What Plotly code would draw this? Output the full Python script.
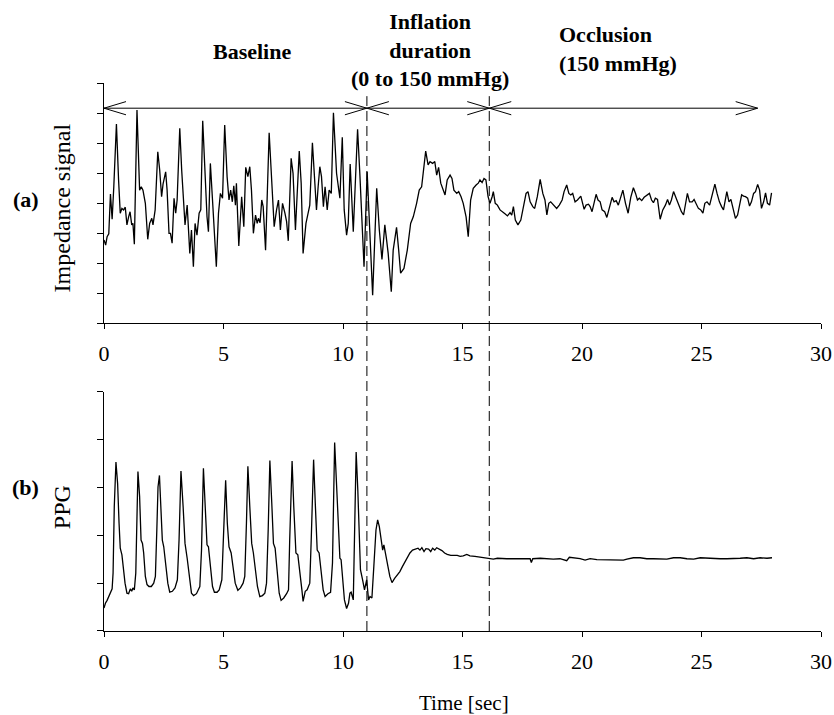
import plotly.graph_objects as go

# ---- Impedance signal (panel a): time [s] and amplitude (arbitrary units) ----
imp_t = [
    0.00, 0.07, 0.13, 0.20, 0.27, 0.34, 0.41, 0.52, 0.61, 0.68, 0.75, 0.82, 0.89, 0.96,
    1.03, 1.09, 1.16, 1.21, 1.27, 1.38, 1.49, 1.56, 1.63, 1.73, 1.83, 1.91, 2.00, 2.05,
    2.14, 2.25, 2.33, 2.41, 2.47, 2.58, 2.64, 2.72, 2.78, 2.85, 2.93, 3.00, 3.06, 3.17,
    3.25, 3.34, 3.39, 3.48, 3.59, 3.66, 3.74, 3.81, 3.89, 3.98, 4.05, 4.13, 4.23, 4.31,
    4.37, 4.45, 4.54, 4.62, 4.70, 4.79, 4.87, 4.96, 5.05, 5.15, 5.23, 5.30, 5.37, 5.43,
    5.50, 5.54, 5.64, 5.76, 5.85, 5.93, 6.02, 6.10, 6.17, 6.25, 6.34, 6.41, 6.46, 6.53,
    6.60, 6.66, 6.76, 6.91, 7.02, 7.12, 7.22, 7.30, 7.38, 7.47, 7.57, 7.64, 7.71, 7.83,
    7.91, 8.01, 8.17, 8.25, 8.33, 8.45, 8.54, 8.61, 8.72, 8.82, 8.89, 8.96, 9.03, 9.10,
    9.18, 9.25, 9.34, 9.42, 9.51, 9.60, 9.73, 9.87, 9.97, 10.05, 10.15, 10.22, 10.30,
    10.43, 10.52, 10.61, 10.71, 10.88, 11.01, 11.13, 11.24, 11.41, 11.52, 11.63, 11.75,
    11.89, 12.02, 12.10, 12.24, 12.33, 12.41, 12.55, 12.69, 12.83, 12.94, 13.08, 13.19,
    13.29, 13.36, 13.46, 13.56, 13.64, 13.75, 13.84, 13.92, 14.00, 14.09, 14.17, 14.27,
    14.36, 14.48, 14.56, 14.64, 14.76, 14.84, 14.94, 15.03, 15.15, 15.24, 15.34, 15.45,
    15.57, 15.66, 15.73, 15.82, 15.90, 15.98, 16.07, 16.15, 16.24, 16.29, 16.37, 16.46,
    16.57, 16.68, 16.79, 16.88, 16.99, 17.06, 17.13, 17.21, 17.32, 17.44, 17.55, 17.66,
    17.74, 17.83, 17.94, 18.02, 18.13, 18.25, 18.36, 18.45, 18.53, 18.61, 18.69, 18.80,
    18.94, 19.05, 19.17, 19.25, 19.36, 19.45, 19.53, 19.61, 19.71, 19.81, 19.95, 20.09,
    20.17, 20.27, 20.34, 20.42, 20.51, 20.59, 20.67, 20.76, 20.84, 20.95, 21.04, 21.15,
    21.26, 21.34, 21.43, 21.52, 21.62, 21.71, 21.82, 21.93, 22.04, 22.15, 22.24, 22.32,
    22.40, 22.50, 22.60, 22.71, 22.82, 22.91, 22.99, 23.07, 23.16, 23.27, 23.38, 23.49,
    23.58, 23.66, 23.74, 23.83, 23.94, 24.05, 24.16, 24.25, 24.33, 24.41, 24.50, 24.61,
    24.69, 24.78, 24.87, 24.97, 25.06, 25.14, 25.23, 25.34, 25.45, 25.56, 25.65, 25.75,
    25.84, 25.92, 26.01, 26.06, 26.15, 26.23, 26.32, 26.42, 26.51, 26.59, 26.68, 26.76,
    26.84, 26.93, 27.01, 27.09, 27.18, 27.26, 27.35, 27.43, 27.51, 27.60, 27.68, 27.76,
    27.85, 27.93,
]
imp_v = [
    2.77, 2.60, 2.88, 2.97, 4.30, 3.46, 4.54, 6.63, 4.77, 3.66, 3.82, 3.77, 3.86, 3.27,
    3.54, 3.71, 3.27, 3.32, 2.63, 7.10, 4.43, 4.54, 4.43, 3.99, 2.79, 3.32, 3.49, 3.27,
    3.77, 5.71, 5.10, 4.21, 4.63, 5.04, 4.43, 2.99, 2.99, 2.66, 4.16, 3.66, 4.10, 6.49,
    5.10, 3.66, 3.27, 3.93, 2.32, 3.10, 1.88, 3.32, 2.93, 3.66, 3.77, 6.74, 4.77, 3.54,
    3.04, 5.32, 4.10, 2.77, 1.88, 3.66, 4.32, 4.16, 6.60, 4.88, 4.10, 4.43, 4.04, 4.57,
    3.93, 4.66, 2.57, 4.21, 3.21, 5.19, 4.88, 5.21, 4.43, 2.99, 3.60, 3.32, 3.49, 3.34,
    4.10, 3.88, 2.43, 6.34, 4.54, 3.21, 3.77, 4.10, 3.10, 3.99, 3.66, 3.38, 2.74, 5.49,
    4.99, 3.10, 5.73, 4.66, 2.32, 3.32, 3.66, 3.93, 6.01, 4.43, 3.77, 4.54, 5.21, 4.88,
    3.88, 4.54, 3.77, 4.43, 4.32, 7.01, 4.99, 4.16, 6.19, 3.77, 2.93, 3.32, 5.30,
    3.04, 4.93, 6.46, 4.88, 1.88, 5.04, 2.77, 0.93, 4.49, 3.10, 2.12, 3.27,
    2.32, 1.04, 2.43, 3.19, 2.43, 1.66, 1.82, 2.43, 3.32, 3.54, 3.99, 4.43,
    4.54, 5.10, 5.73, 5.27, 5.38, 5.32, 5.38, 4.93, 5.19, 4.66, 4.49, 4.27,
    4.77, 4.93, 4.82, 4.43, 4.32, 4.38, 4.21, 3.99, 3.54, 2.88, 4.10, 4.49,
    4.60, 4.66, 4.77, 4.68, 4.82, 4.77, 4.21, 3.99, 4.21, 4.38, 3.99, 3.93,
    3.77, 3.71, 3.63, 3.57, 3.68, 3.60, 3.88, 3.43, 3.27, 3.43, 3.88, 4.32,
    4.38, 4.04, 3.88, 3.82, 4.21, 4.79, 4.32, 4.10, 3.60, 3.99, 4.04, 3.93,
    3.82, 3.93, 4.10, 4.38, 4.60, 4.32, 4.27, 4.32, 4.04, 4.10, 4.23, 3.79,
    3.93, 3.96, 3.88, 3.71, 4.04, 4.29, 4.10, 4.04, 3.77, 3.71, 3.52, 3.82,
    4.19, 4.04, 4.08, 3.93, 4.16, 4.43, 3.99, 3.66, 4.19, 4.51, 4.32, 4.10,
    4.16, 4.08, 4.19, 4.27, 4.32, 4.10, 4.01, 4.16, 4.12, 3.46, 3.77, 3.93,
    4.12, 3.93, 4.10, 4.38, 4.16, 3.93, 3.71, 3.60, 3.93, 4.32, 4.04, 4.04,
    4.12, 3.99, 3.82, 3.77, 3.66, 3.99, 4.04, 3.93, 4.27, 4.63, 4.32, 4.04,
    3.88, 3.77, 4.16, 4.38, 4.04, 4.12, 3.82, 3.49, 3.60, 3.88, 4.27, 4.23,
    4.21, 4.16, 3.90, 4.04, 4.32, 4.38, 4.62, 4.43, 3.82, 4.04, 4.34, 3.99,
    3.93, 4.34,
]

# ---- PPG signal (panel b) ----
ppg_t = [
    0.00, 0.06, 0.13, 0.20, 0.27, 0.34, 0.38, 0.43, 0.50, 0.57, 0.63, 0.68, 0.75, 0.82,
    0.88, 0.96, 1.03, 1.10, 1.16, 1.21, 1.27, 1.33, 1.37, 1.42, 1.49, 1.55, 1.61, 1.66,
    1.73, 1.80, 1.88, 1.98, 2.08, 2.15, 2.21, 2.26, 2.32, 2.39, 2.44, 2.50, 2.58, 2.67,
    2.75, 2.86, 2.97, 3.07, 3.14, 3.22, 3.31, 3.39, 3.48, 3.56, 3.66, 3.75, 3.87, 4.01,
    4.08, 4.16, 4.24, 4.31, 4.37, 4.45, 4.54, 4.62, 4.73, 4.82, 4.93, 5.03, 5.09, 5.16,
    5.23, 5.32, 5.40, 5.49, 5.60, 5.71, 5.82, 5.89, 5.96, 6.02, 6.10, 6.18, 6.25, 6.34,
    6.42, 6.52, 6.63, 6.73, 6.80, 6.87, 6.94, 7.02, 7.09, 7.16, 7.24, 7.33, 7.41, 7.52,
    7.64, 7.72, 7.77, 7.87, 7.94, 8.03, 8.11, 8.19, 8.28, 8.33, 8.42, 8.50, 8.61, 8.67,
    8.77, 8.84, 8.92, 9.00, 9.09, 9.17, 9.25, 9.37, 9.48, 9.56, 9.65, 9.73, 9.81, 9.87,
    9.92, 9.98, 10.06, 10.15, 10.23, 10.29, 10.34, 10.43, 10.51, 10.55, 10.62, 10.68,
    10.73, 10.82, 10.90, 10.99, 11.07, 11.13, 11.21, 11.29, 11.38, 11.45, 11.52, 11.60,
    11.66, 11.71, 11.80, 11.88, 11.96, 12.05, 12.16, 12.27, 12.38, 12.49, 12.61, 12.72,
    12.80, 12.91, 13.02, 13.14, 13.22, 13.30, 13.39, 13.47, 13.58, 13.67, 13.75, 13.84,
    13.92, 14.03, 14.14, 14.25, 14.36, 14.51, 14.64, 14.78, 14.90, 15.03, 15.18, 15.31,
    15.52, 15.73, 15.94, 16.15, 16.29, 16.46, 16.64, 16.85, 17.13, 17.41, 17.69, 17.83,
    17.88, 17.94, 18.25, 18.53, 18.80, 19.08, 19.36, 19.47, 19.64, 19.92, 20.13, 20.34,
    20.62, 20.90, 21.32, 21.73, 21.88, 22.15, 22.43, 22.71, 22.99, 23.27, 23.55, 23.83,
    24.11, 24.39, 24.67, 24.95, 25.23, 25.50, 25.78, 26.06, 26.34, 26.62, 26.90, 27.18,
    27.46, 27.74, 27.95,
]
ppg_v = [
    0.48, 0.58, 0.64, 0.71, 0.79, 0.88, 1.21, 2.60, 3.53, 3.08, 2.25, 1.73, 1.59, 1.28,
    1.00, 0.79, 0.78, 0.88, 0.83, 0.90, 0.86, 1.21, 2.60, 3.33, 2.81, 1.90, 1.83, 1.63,
    1.14, 0.97, 0.93, 0.93, 1.00, 1.14, 2.11, 3.01, 3.25, 2.60, 1.90, 1.76, 1.35, 1.00,
    0.81, 0.83, 0.90, 1.07, 1.90, 3.34, 2.60, 1.83, 1.52, 1.14, 0.79, 0.74, 0.78, 0.93,
    1.69, 3.40, 2.67, 1.80, 1.76, 1.28, 0.93, 0.81, 0.81, 0.86, 1.07, 2.39, 3.15, 2.25,
    1.76, 1.63, 1.28, 1.00, 0.85, 0.90, 1.00, 1.14, 2.25, 3.44, 2.60, 1.83, 1.63, 1.24,
    0.93, 0.72, 0.74, 0.79, 1.00, 2.11, 3.56, 2.67, 1.83, 1.73, 1.28, 0.79, 0.64, 0.69,
    0.78, 0.86, 1.90, 3.55, 2.60, 1.63, 1.59, 1.17, 0.86, 0.62, 0.83, 0.86, 1.00, 1.90,
    3.58, 2.67, 1.69, 1.63, 1.21, 0.86, 0.72, 0.78, 0.81, 1.42, 3.94, 3.15, 2.11, 1.52,
    1.49, 1.14, 0.65, 0.47, 0.58, 0.79, 0.81, 0.65, 2.67, 3.74, 2.94, 2.11,
    1.28, 1.07, 0.86, 1.07, 0.65, 0.72, 0.69, 1.35, 2.11, 2.32, 2.18, 1.90,
    1.69, 1.80, 1.59, 1.35, 1.14, 1.01, 1.10, 1.17, 1.24, 1.35, 1.45, 1.56,
    1.63, 1.69, 1.71, 1.73, 1.69, 1.74, 1.66, 1.72, 1.71, 1.66, 1.73, 1.69,
    1.74, 1.71, 1.68, 1.63, 1.60, 1.58, 1.58, 1.58, 1.56, 1.57, 1.60, 1.57,
    1.56, 1.54, 1.53, 1.51, 1.50, 1.52, 1.51, 1.51, 1.51, 1.51, 1.50, 1.51,
    1.43, 1.51, 1.52, 1.51, 1.50, 1.51, 1.47, 1.54, 1.53, 1.51, 1.48, 1.51,
    1.49, 1.49, 1.49, 1.48, 1.50, 1.53, 1.53, 1.51, 1.51, 1.51, 1.50, 1.53,
    1.53, 1.51, 1.50, 1.53, 1.52, 1.52, 1.51, 1.51, 1.51, 1.52, 1.53, 1.51,
    1.53, 1.52, 1.53,
]

# ---- Protocol phases [s] ----
phase_edges = [0.0, 11.0, 16.12, 27.35]
phase_labels = [
    "Baseline",
    "Inflation<br>duration<br>(0 to 150 mmHg)",
    "Occlusion<br>(150 mmHg)",
]
x_ticks = [0, 5, 10, 15, 20, 25, 30]

SERIF = "Liberation Serif, Times New Roman, serif"
BLACK = "#000000"

fig = go.Figure()
fig.add_trace(go.Scatter(x=imp_t, y=imp_v, mode="lines", xaxis="x", yaxis="y",
                         line=dict(color=BLACK, width=1.3), showlegend=False,
                         hoverinfo="skip"))
fig.add_trace(go.Scatter(x=ppg_t, y=ppg_v, mode="lines", xaxis="x2", yaxis="y2",
                         line=dict(color=BLACK, width=1.3), showlegend=False,
                         hoverinfo="skip"))

xcommon = dict(range=[0, 30], tickvals=x_ticks, ticks="outside", ticklen=5,
               tickcolor=BLACK, showline=True, linecolor=BLACK, linewidth=1,
               showgrid=False, zeroline=False, ticklabelstandoff=6,
               tickfont=dict(family=SERIF, size=22, color=BLACK))
ycommon = dict(ticks="outside", ticklen=6, tickcolor=BLACK, showline=True,
               linecolor=BLACK, linewidth=1, showgrid=False, zeroline=False,
               showticklabels=False, dtick=1)

fig.update_layout(
    width=834, height=715,
    margin=dict(l=104, r=13, t=83, b=84, autoexpand=False),
    paper_bgcolor="white", plot_bgcolor="white",
    xaxis=dict(domain=[0, 1], anchor="y", **xcommon),
    yaxis=dict(domain=[0.562, 1.0], range=[0, 8], anchor="x", **ycommon),
    xaxis2=dict(domain=[0, 1], anchor="y2", **xcommon),
    yaxis2=dict(domain=[0, 0.4367], range=[0, 5], anchor="x2", **ycommon),
)

shapes = []
# dashed phase boundaries spanning both panels
for xb in phase_edges[1:3]:
    shapes.append(dict(type="line", xref="x", yref="paper", x0=xb, x1=xb,
                       y0=0, y1=0.976,
                       line=dict(color=BLACK, width=1, dash="10px,5px")))

# double-headed phase arrows with open chevron heads
arrow_y = 7.16
head_dx, head_dy = 0.92, 0.22
for a, b in zip(phase_edges[:-1], phase_edges[1:]):
    shapes.append(dict(type="line", xref="x", yref="y", x0=a, x1=b,
                       y0=arrow_y, y1=arrow_y, line=dict(color=BLACK, width=1)))
    shapes.append(dict(type="path", xref="x", yref="y",
                       path=f"M {a + head_dx},{arrow_y + head_dy} L {a},{arrow_y} "
                            f"L {a + head_dx},{arrow_y - head_dy}",
                       line=dict(color=BLACK, width=1)))
    shapes.append(dict(type="path", xref="x", yref="y",
                       path=f"M {b - head_dx},{arrow_y + head_dy} L {b},{arrow_y} "
                            f"L {b - head_dx},{arrow_y - head_dy}",
                       line=dict(color=BLACK, width=1)))
fig.update_layout(shapes=shapes)

bold = dict(family=SERIF, size=22, color=BLACK)
plain = dict(family=SERIF, size=22, color=BLACK)
side = dict(family=SERIF, size=24, color=BLACK)
annotations = [
    dict(text=f"<b>{phase_labels[0]}</b>", xref="x", yref="paper", x=6.18, y=1.0566,
         xanchor="center", yanchor="middle", showarrow=False, font=bold),
    dict(text=f"<b>{phase_labels[1]}</b>", xref="x", yref="paper", x=13.64, y=1.0602,
         xanchor="center", yanchor="middle", showarrow=False, font=bold),
    dict(text=f"<b>{phase_labels[2]}</b>", xref="x", yref="paper", x=18.95, y=1.0615,
         xanchor="left", yanchor="middle", align="left", showarrow=False, font=bold),
    dict(text="<b>(a)</b>", xref="paper", yref="paper", x=-0.109, y=0.7865,
         xanchor="center", yanchor="middle", showarrow=False, font=bold),
    dict(text="<b>(b)</b>", xref="paper", yref="paper", x=-0.110, y=0.261,
         xanchor="center", yanchor="middle", showarrow=False, font=bold),
    dict(text="Impedance signal", xref="paper", yref="paper", x=-0.0593, y=0.772,
         xanchor="center", yanchor="middle", textangle=-90, showarrow=False, font=side),
    dict(text="PPG", xref="paper", yref="paper", x=-0.0586, y=0.226,
         xanchor="center", yanchor="middle", textangle=-90, showarrow=False, font=side),
    dict(text="Time [sec]", xref="paper", yref="paper", x=0.502, y=-0.131,
         xanchor="center", yanchor="middle", showarrow=False,
         font=dict(family=SERIF, size=21, color=BLACK)),
]
fig.update_layout(annotations=annotations)

fig.write_html("out.html")
